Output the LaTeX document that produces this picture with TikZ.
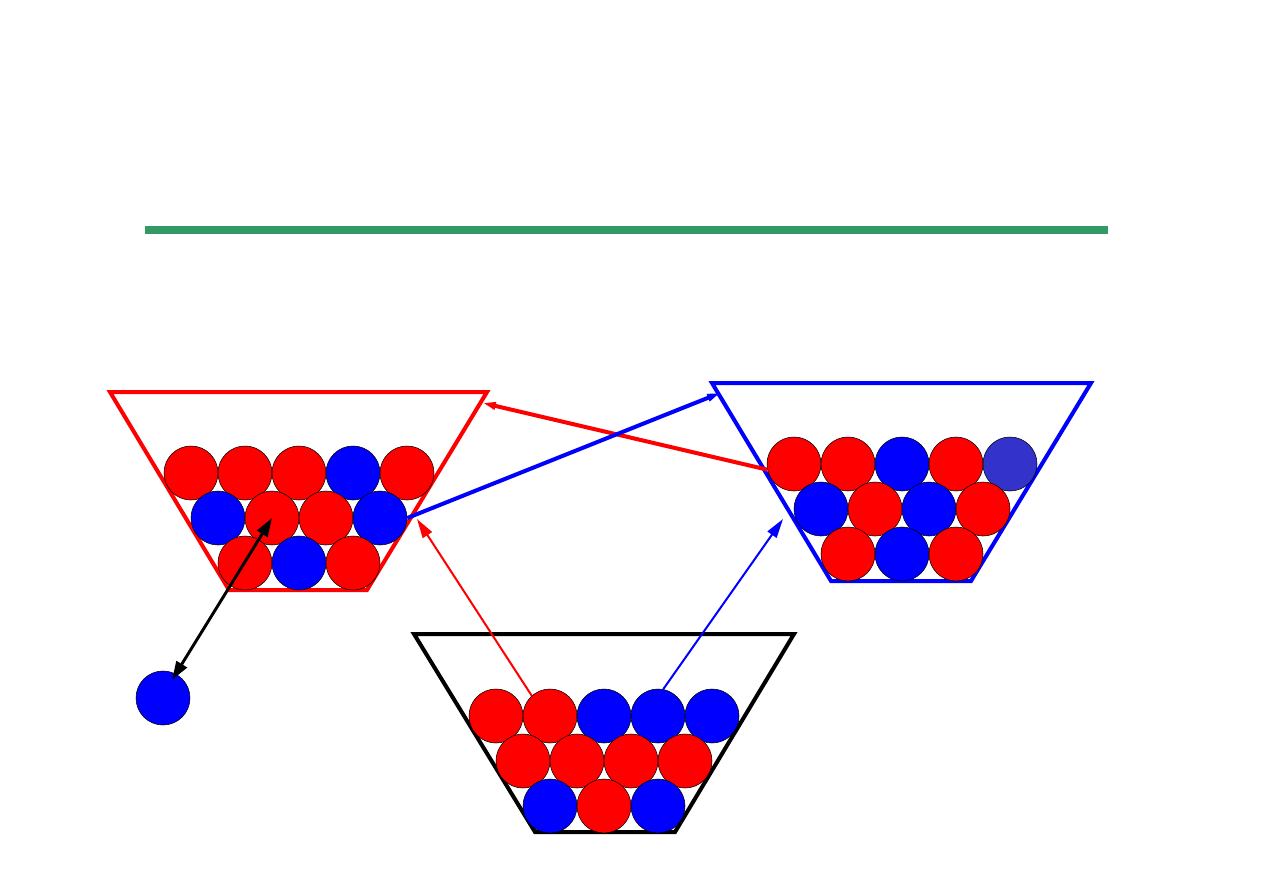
\documentclass[tikz,border=0pt]{standalone}
\usetikzlibrary{arrows.meta}
\definecolor{grn}{RGB}{51,153,102}
\definecolor{dblue}{RGB}{51,51,204}
\begin{document}
\begin{tikzpicture}[x=0.75pt,y=-0.75pt,
  ball/.style={circle,draw=black,line width=0.4pt,minimum size=40.5pt,inner sep=0pt},
  rb/.style={ball,fill=red},
  bb/.style={ball,fill=blue},
  db/.style={ball,fill=dblue},
  bin/.style={line width=3pt,line join=miter},
  tip/.style={-{Triangle[length=#1*3.2,width=#1*1.8]}},
]
\useasboundingbox (0,0) rectangle (1263,893);
\fill[white] (0,0) rectangle (1263,893);
\draw[grn,line width=6pt] (145,230) -- (1108,230);

% bins
\draw[bin,red] (110,392) -- (487,392) -- (367,590) -- (229,590) -- cycle;
\draw[bin,blue] (712,383) -- (1091,383) -- (971,581) -- (831,581) -- cycle;
\draw[bin,black] (414,634) -- (794,634) -- (675,832) -- (535,832) -- cycle;

% left (red) bin balls
\node[rb] (l1) at (191,473) {};
\node[rb] (l2) at (245,473) {};
\node[rb] (l3) at (299,473) {};
\node[bb] (l4) at (353,473) {};
\node[rb] (l5) at (407,473) {};
\node[bb] (l6) at (218,518) {};
\node[rb] (l7) at (272,518) {};
\node[rb] (l8) at (326,518) {};
\node[bb] (l9) at (380,518) {};
\node[rb] (l10) at (245,563) {};
\node[bb] (l11) at (299,563) {};
\node[rb] (l12) at (353,563) {};

% right (blue) bin balls
\node[rb] (r1) at (794,464) {};
\node[rb] (r2) at (848,464) {};
\node[bb] (r3) at (902,464) {};
\node[rb] (r4) at (956,464) {};
\node[db] (r5) at (1010,464) {};
\node[bb] (r6) at (821,509) {};
\node[rb] (r7) at (875,509) {};
\node[bb] (r8) at (929,509) {};
\node[rb] (r9) at (983,509) {};
\node[rb] (r10) at (848,554) {};
\node[bb] (r11) at (902,554) {};
\node[rb] (r12) at (956,554) {};

% bottom (black) bin balls
\node[rb] (m1) at (496,716) {};
\node[rb] (m2) at (550,716) {};
\node[bb] (m3) at (604,716) {};
\node[bb] (m4) at (658,716) {};
\node[bb] (m5) at (712,716) {};
\node[rb] (m6) at (523,761) {};
\node[rb] (m7) at (577,761) {};
\node[rb] (m8) at (631,761) {};
\node[rb] (m9) at (685,761) {};
\node[bb] (m10) at (550,806) {};
\node[rb] (m11) at (604,806) {};
\node[bb] (m12) at (658,806) {};

% lone ball
\node[bb] (lone) at (163,698) {};

% arrow end points
\coordinate (redtip) at (483,403);
\coordinate (bluetip) at (720,393);
\coordinate (rthin) at (417,519);
\coordinate (bthin) at (783,519);
\coordinate (lonetip) at (172,680);

\draw[red,line width=3pt,tip=3pt] (r1.192) -- (redtip);
\draw[blue,line width=3pt,tip=3pt] (l9.east) -- (bluetip);
\draw[red,line width=1.5pt,tip=4.5pt] (m2.132) -- (rthin);
\draw[blue,line width=1.5pt,tip=4.5pt] (m4.79) -- (bthin);
\draw[black,line width=2.2pt,{Triangle[length=14pt,width=9pt]}-{Triangle[length=14pt,width=9pt]}] (lonetip) -- (l7.center);
\end{tikzpicture}
\end{document}
